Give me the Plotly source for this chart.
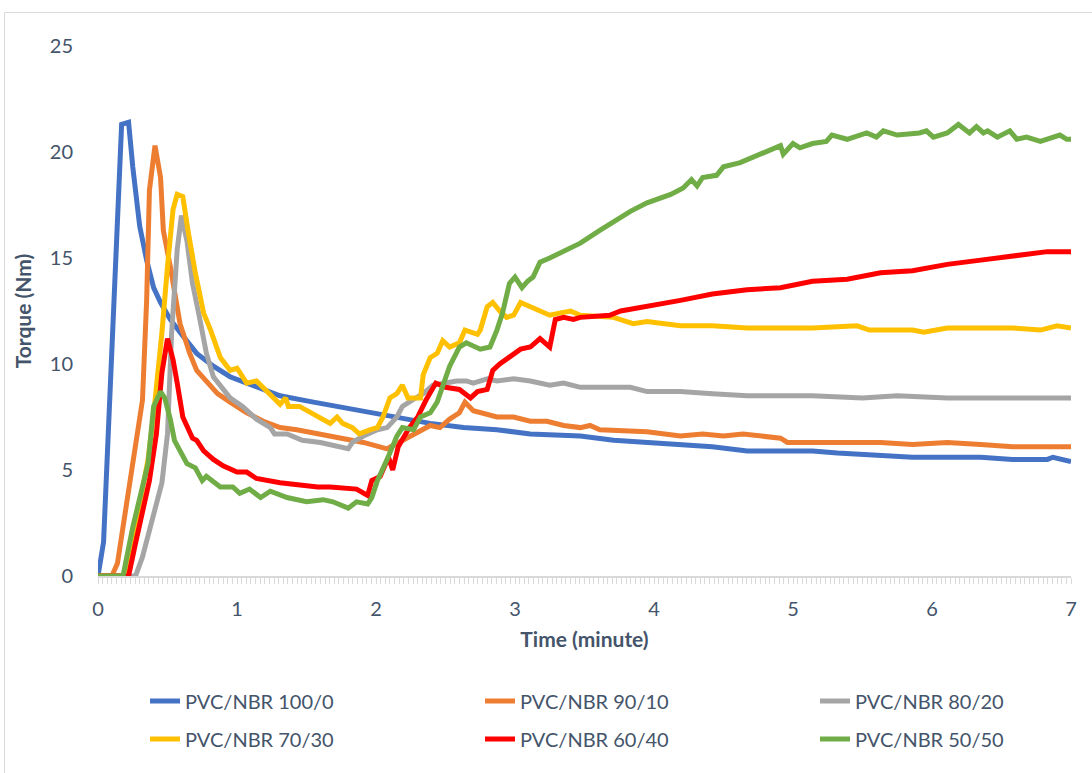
import plotly.graph_objects as go

# ---------------- data (time in minutes, torque in Nm) ----------------
t_100_0 = [0, 0.04, 0.17, 0.22, 0.25, 0.30, 0.35, 0.40, 0.45, 0.52, 0.59, 0.71, 0.83, 0.95,
           1.07, 1.19, 1.31, 1.55, 1.79, 2.03, 2.19, 2.39, 2.63, 2.87, 3.11, 3.47, 3.71, 3.95,
           4.19, 4.42, 4.67, 4.91, 5.14, 5.32, 5.63, 5.86, 6.11, 6.35, 6.58, 6.83, 6.87, 7.0]
v_100_0 = [0, 1.6, 21.3, 21.4, 19.3, 16.5, 14.9, 13.6, 12.9, 12.1, 11.5, 10.5, 9.9, 9.4,
           9.1, 8.8, 8.5, 8.2, 7.9, 7.6, 7.4, 7.2, 7.0, 6.9, 6.7, 6.6, 6.4, 6.3,
           6.2, 6.1, 5.9, 5.9, 5.9, 5.8, 5.7, 5.6, 5.6, 5.6, 5.5, 5.5, 5.6, 5.4]

t_90_10 = [0, 0.10, 0.14, 0.21, 0.25, 0.32, 0.35, 0.37, 0.41, 0.45, 0.47, 0.52, 0.59, 0.66,
           0.71, 0.78, 0.86, 0.95, 1.07, 1.19, 1.31, 1.43, 1.67, 1.91, 2.08, 2.19, 2.32, 2.39,
           2.46, 2.53, 2.60, 2.64, 2.70, 2.77, 2.87, 2.99, 3.11, 3.23, 3.35, 3.47, 3.54, 3.61,
           3.95, 4.19, 4.35, 4.50, 4.64, 4.91, 4.96, 5.14, 5.39, 5.63, 5.86, 6.11, 6.35, 6.58, 7.0]
v_90_10 = [0, 0, 0.6, 3.6, 5.1, 8.3, 13.0, 18.2, 20.3, 18.8, 16.3, 14.6, 11.9, 10.5,
           9.7, 9.2, 8.6, 8.2, 7.7, 7.3, 7.0, 6.9, 6.6, 6.3, 6.0, 6.4, 6.9, 7.1,
           7.0, 7.4, 7.7, 8.2, 7.8, 7.7, 7.5, 7.5, 7.3, 7.3, 7.1, 7.0, 7.1, 6.9,
           6.8, 6.6, 6.7, 6.6, 6.7, 6.5, 6.3, 6.3, 6.3, 6.3, 6.2, 6.3, 6.2, 6.1, 6.1]

t_80_20 = [0, 0.27, 0.32, 0.40, 0.46, 0.50, 0.53, 0.57, 0.60, 0.64, 0.68, 0.73, 0.78, 0.83,
           0.90, 0.95, 1.04, 1.14, 1.24, 1.27, 1.36, 1.47, 1.60, 1.72, 1.80, 1.83, 1.91, 2.01,
           2.08, 2.15, 2.19, 2.26, 2.34, 2.41, 2.48, 2.58, 2.65, 2.70, 2.80, 2.87, 2.99, 3.11,
           3.25, 3.35, 3.47, 3.71, 3.83, 3.95, 4.19, 4.42, 4.67, 4.91, 5.14, 5.50, 5.75, 6.11,
           6.58, 7.0]
v_80_20 = [0, 0, 0.9, 2.8, 4.4, 6.7, 11.5, 15.4, 17.0, 15.8, 13.8, 12.2, 10.5, 9.4,
           8.8, 8.4, 8.0, 7.4, 7.0, 6.7, 6.7, 6.4, 6.3, 6.1, 6.0, 6.3, 6.6, 6.9,
           7.0, 7.5, 8.0, 8.3, 8.6, 9.0, 9.1, 9.2, 9.2, 9.1, 9.3, 9.2, 9.3, 9.2,
           9.0, 9.1, 8.9, 8.9, 8.9, 8.7, 8.7, 8.6, 8.5, 8.5, 8.5, 8.4, 8.5, 8.4,
           8.4, 8.4]

t_70_30 = [0, 0.20, 0.26, 0.32, 0.36, 0.40, 0.42, 0.46, 0.50, 0.54, 0.57, 0.61, 0.65, 0.70,
           0.76, 0.81, 0.88,
           0.95, 1.00, 1.07, 1.14, 1.26, 1.31, 1.35, 1.37, 1.45, 1.53, 1.67, 1.72, 1.76, 1.83,
           1.88, 1.96, 2.01, 2.05, 2.10, 2.15, 2.19, 2.23, 2.32, 2.34, 2.39, 2.44, 2.48, 2.53,
           2.60, 2.64, 2.73, 2.75, 2.80, 2.84, 2.89, 2.94, 2.99, 3.04, 3.11, 3.18, 3.25, 3.32,
           3.40, 3.47, 3.71, 3.85, 3.95, 4.19, 4.42, 4.67, 4.91, 5.14, 5.46, 5.55, 5.86, 5.94,
           6.11, 6.35, 6.58, 6.78, 6.90, 7.0]
v_70_30 = [0, 0, 2.0, 4.0, 5.5, 7.6, 8.8, 11.5, 14.6, 17.3, 18.0, 17.9, 16.2, 14.3,
           12.4, 11.6, 10.3,
           9.7, 9.8, 9.1, 9.2, 8.4, 8.1, 8.4, 8.0, 8.0, 7.7, 7.2, 7.5, 7.2, 7.0,
           6.7, 6.9, 7.0, 7.5, 8.4, 8.6, 9.0, 8.4, 8.4, 9.5, 10.3, 10.5, 11.1, 10.8,
           11.0, 11.6, 11.4, 11.6, 12.7, 12.9, 12.5, 12.2, 12.3, 12.9, 12.7, 12.5, 12.3, 12.4,
           12.5, 12.3, 12.2, 11.9, 12.0, 11.8, 11.8, 11.7, 11.7, 11.7, 11.8, 11.6, 11.6, 11.5,
           11.7, 11.7, 11.7, 11.6, 11.8, 11.7]

t_60_40 = [0, 0.22, 0.27, 0.32, 0.37, 0.42, 0.46, 0.50, 0.54, 0.57, 0.61, 0.68, 0.71, 0.76,
           0.83, 0.90, 1.00, 1.07, 1.14, 1.31, 1.43, 1.58, 1.67, 1.79, 1.86, 1.94, 1.97, 2.03,
           2.09, 2.12, 2.16, 2.24, 2.30, 2.36, 2.43, 2.50, 2.60, 2.68, 2.73, 2.80, 2.84, 2.89,
           2.96, 3.04, 3.11, 3.18, 3.25, 3.29, 3.35, 3.42, 3.47, 3.68, 3.76, 3.95, 4.19, 4.42,
           4.67, 4.91, 5.14, 5.39, 5.63, 5.86, 6.11, 6.35, 6.58, 6.83, 7.0]
v_60_40 = [0, 0, 1.55, 3.1, 4.5, 6.7, 9.6, 11.2, 10.2, 9.1, 7.5, 6.5, 6.4, 5.9,
           5.5, 5.2, 4.9, 4.9, 4.6, 4.4, 4.3, 4.2, 4.2, 4.1, 4.1, 3.8, 4.5, 4.7,
           5.6, 5.0, 6.1, 7.0, 7.5, 8.3, 9.1, 8.9, 8.8, 8.4, 8.7, 8.8, 9.7, 10.0,
           10.3, 10.7, 10.8, 11.2, 10.8, 12.1, 12.2, 12.1, 12.2, 12.3, 12.5, 12.7, 13.0, 13.3,
           13.5, 13.6, 13.9, 14.0, 14.3, 14.4, 14.7, 14.9, 15.1, 15.3, 15.3]

t_50_50 = [0, 0.18, 0.25, 0.32, 0.36, 0.40, 0.45, 0.48, 0.52, 0.55, 0.59, 0.64, 0.70, 0.75,
           0.78, 0.84, 0.88, 0.97, 1.02, 1.09, 1.17, 1.24, 1.36, 1.50, 1.62, 1.69, 1.76, 1.80,
           1.86, 1.94, 1.97, 2.01, 2.08, 2.15, 2.19, 2.27, 2.32, 2.39, 2.44, 2.48, 2.53, 2.60,
           2.65, 2.75, 2.82, 2.87, 2.91, 2.96, 3.00, 3.05, 3.09, 3.13, 3.18, 3.25, 3.35, 3.47,
           3.61, 3.71, 3.83, 3.95, 4.12, 4.21, 4.27, 4.31, 4.35, 4.45, 4.50, 4.62, 4.76, 4.91,
           4.93, 5.00, 5.05, 5.14, 5.24, 5.28, 5.39, 5.53, 5.60, 5.65, 5.75, 5.91, 5.96, 6.01,
           6.11, 6.19, 6.27, 6.32, 6.37, 6.40, 6.47, 6.56, 6.61, 6.68, 6.78, 6.92, 6.97, 7.0]
v_50_50 = [0, 0, 2.3, 4.1, 5.3, 8.0, 8.7, 8.4, 7.4, 6.4, 5.9, 5.3, 5.1, 4.5,
           4.7, 4.4, 4.2, 4.2, 3.9, 4.1, 3.7, 4.0, 3.7, 3.5, 3.6, 3.5, 3.3, 3.2,
           3.5, 3.4, 3.7, 4.5, 5.5, 6.6, 7.0, 6.9, 7.5, 7.7, 8.2, 8.9, 9.9, 10.8,
           11.0, 10.7, 10.8, 11.6, 12.4, 13.8, 14.1, 13.6, 13.9, 14.1, 14.8, 15.0, 15.3, 15.7,
           16.3, 16.7, 17.2, 17.6, 18.0, 18.3, 18.7, 18.4, 18.8, 18.9, 19.3, 19.5, 19.9, 20.3,
           19.9, 20.4, 20.2, 20.4, 20.5, 20.8, 20.6, 20.9, 20.7, 21.0, 20.8, 20.9, 21.0, 20.7,
           20.9, 21.3, 20.9, 21.2, 20.9, 21.0, 20.7, 21.0, 20.6, 20.7, 20.5, 20.8, 20.6, 20.6]

series_names = ["PVC/NBR 100/0", "PVC/NBR 90/10", "PVC/NBR 80/20",
                "PVC/NBR 70/30", "PVC/NBR 60/40", "PVC/NBR 50/50"]
series_t = [t_100_0, t_90_10, t_80_20, t_70_30, t_60_40, t_50_50]
series_v = [v_100_0, v_90_10, v_80_20, v_70_30, v_60_40, v_50_50]
series_colors = ["#4472C4", "#ED7D31", "#A5A5A5", "#FFC000", "#FF0000", "#70AD47"]

# x axis: one tick mark per sample (every 2 s = 1/30 min), labelled each minute
x_label_minutes = [0, 1, 2, 3, 4, 5, 6, 7]
samples_per_minute = 30
x_tickvals = [i / samples_per_minute for i in range(7 * samples_per_minute + 1)]
x_ticktext = [str(i // samples_per_minute) if i % samples_per_minute == 0 else ""
              for i in range(7 * samples_per_minute + 1)]
y_ticks = [0, 5, 10, 15, 20, 25]

# ---------------- figure ----------------
FONT = "Lato"
TXT = "#44546A"

W, H = 1092, 773
L, R, T, B = 98, 21, 46, 197
PW, PH = W - L - R, H - T - B


def px_x(px):
    return (px - L) / PW


def px_y(py):
    return (H - B - py) / PH


fig = go.Figure()
legend_ids = ["legend", "legend2", "legend3", "legend4", "legend5", "legend6"]
for i, (name, tt, vv, col) in enumerate(zip(series_names, series_t, series_v, series_colors)):
    fig.add_trace(go.Scatter(
        x=tt, y=vv, mode="lines", name=name,
        line=dict(color=col, width=5),
        legend=legend_ids[i],
    ))

# legend item placement: text starts at 185 / 520 / 855 px, rows at 701 / 739 px
col_text_px = [185, 520, 855]
row_px = [701, 739]
legend_layouts = {}
for i, lid in enumerate(legend_ids):
    c, r = i % 3, i // 3
    legend_layouts[lid] = dict(
        x=px_x(col_text_px[c] - 40), y=px_y(row_px[r]),
        xanchor="left", yanchor="middle", orientation="h",
        font=dict(family=FONT, size=20, color=TXT),
        bgcolor="rgba(0,0,0,0)", itemwidth=30,
    )

fig.update_layout(
    width=W, height=H,
    margin=dict(l=L, r=R, t=T, b=B, autoexpand=False),
    paper_bgcolor="white", plot_bgcolor="white",
    font=dict(family=FONT, color=TXT, size=20),
    showlegend=True,
    **legend_layouts,
    xaxis=dict(
        range=[0, 7], tickmode="array", tickvals=x_tickvals, ticktext=x_ticktext,
        showgrid=False, zeroline=False,
        showline=True, linecolor="#D9D9D9", linewidth=1.5,
        ticks="outside", ticklen=6, tickcolor="#D9D9D9", tickwidth=1.2,
        tickfont=dict(family=FONT, size=20, color=TXT),
        ticklabelstandoff=8,
        title=dict(text="<b>Time (minute)</b>", font=dict(family=FONT, size=21, color=TXT), standoff=14),
        automargin=False,
    ),
    yaxis=dict(
        range=[0, 25], tickmode="array", tickvals=y_ticks,
        showgrid=False, zeroline=False, showline=False,
        ticks="", tickfont=dict(family=FONT, size=20, color=TXT),
        ticklabelstandoff=24,
        title=dict(text="<b>Torque (Nm)</b>", font=dict(family=FONT, size=21, color=TXT), standoff=12),
        automargin=False,
    ),
    shapes=[
        dict(type="line", xref="paper", yref="paper",
             x0=px_x(4.5), x1=px_x(W + 5), y0=px_y(12.5), y1=px_y(12.5),
             line=dict(color="#D9D9D9", width=1)),
        dict(type="line", xref="paper", yref="paper",
             x0=px_x(4.5), x1=px_x(4.5), y0=px_y(12.5), y1=px_y(H + 5),
             line=dict(color="#D9D9D9", width=1)),
    ],
)

fig.write_html("out.html")
